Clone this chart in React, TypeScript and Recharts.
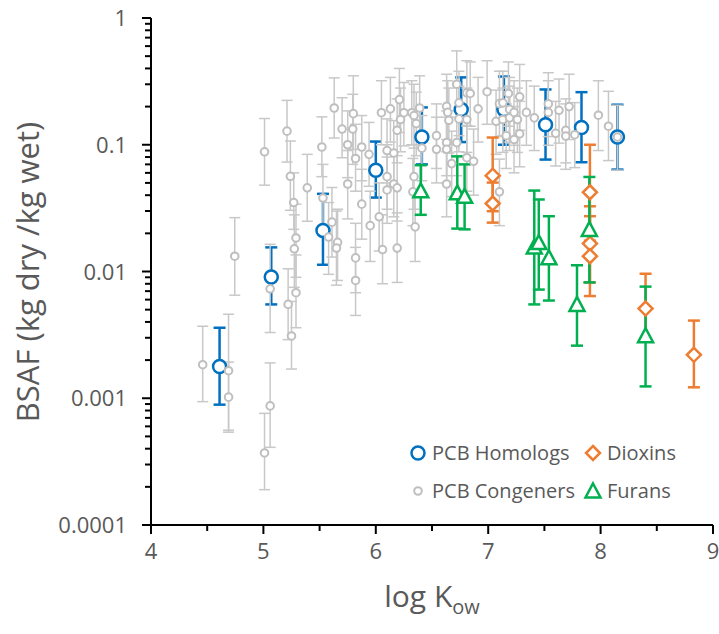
import React from 'react';
import { ScatterChart, Scatter, XAxis, YAxis, ErrorBar } from 'recharts';

// ---------- Data ----------
const homologX = [4.61, 5.07, 5.53, 6.0, 6.41, 6.76, 7.14, 7.51, 7.83, 8.15];
const homologY = [0.00178, 0.00906, 0.0211, 0.063, 0.115, 0.19, 0.19, 0.1436, 0.137, 0.115];
const homologLo = [0.00089, 0.0055, 0.0113, 0.0383, 0.07, 0.105, 0.1, 0.0764, 0.0728, 0.0637];
const homologHi = [0.0036, 0.0155, 0.041, 0.106, 0.197, 0.34, 0.345, 0.273, 0.26, 0.207];

const congenerX = [
  4.46, 4.69, 4.69, 4.745, 5.01, 5.06, 5.06, 5.01, 5.21, 5.24,
  5.27, 5.29, 5.275, 5.29, 5.22, 5.25, 5.39, 5.52, 5.53, 5.61,
  5.58, 5.66, 5.65, 5.63, 5.7, 5.8, 5.795, 5.75, 5.82, 5.875,
  5.94, 5.75, 5.875, 5.95, 5.82, 5.82, 6.03, 6.06, 6.19, 6.05,
  6.13, 6.21, 6.22, 6.19, 6.25, 6.32, 6.1, 6.16, 6.1, 6.1,
  6.16, 6.19, 6.34, 6.33, 6.35, 6.39, 6.34, 6.36, 6.41, 6.54,
  6.54, 6.63, 6.64, 6.65, 6.72, 6.74, 6.81, 6.84, 6.74, 6.81,
  6.91, 6.99, 6.63, 6.63, 6.72, 6.675, 6.63, 6.81, 6.87, 7.1,
  7.1, 7.13, 7.18, 7.19, 7.07, 7.13, 7.19, 7.23, 7.28, 7.26,
  7.28, 7.34, 7.41, 7.16, 7.23, 7.535, 7.535, 7.63, 7.72, 7.6,
  7.69, 7.69, 7.77, 7.98, 8.07, 8.15,
];
const congenerY = [
  0.00184, 0.00165, 0.00102, 0.0132, 0.088, 0.0073, 0.00087, 0.00037, 0.128, 0.0564,
  0.035, 0.0184, 0.0151, 0.0068, 0.0055, 0.0031, 0.0457, 0.096, 0.038, 0.0245,
  0.0187, 0.017, 0.0153, 0.195, 0.133, 0.176, 0.133, 0.1, 0.078, 0.096,
  0.084, 0.049, 0.034, 0.023, 0.0128, 0.0085, 0.027, 0.0149, 0.0153, 0.179,
  0.192, 0.227, 0.158, 0.13, 0.179, 0.179, 0.09, 0.086, 0.056, 0.044,
  0.049, 0.0457, 0.056, 0.0425, 0.0225, 0.195, 0.17, 0.147, 0.094, 0.118,
  0.092, 0.201, 0.18, 0.156, 0.3, 0.214, 0.257, 0.254, 0.16, 0.158,
  0.192, 0.262, 0.104, 0.092, 0.104, 0.071, 0.049, 0.079, 0.074, 0.0425,
  0.211, 0.214, 0.254, 0.19, 0.153, 0.158, 0.163, 0.18, 0.239, 0.158,
  0.122, 0.18, 0.163, 0.118, 0.11, 0.21, 0.18, 0.187, 0.2, 0.123,
  0.13, 0.117, 0.12, 0.171, 0.14, 0.115,
];
const congenerLo = [
  0.00094, 0.00056, 0.00054, 0.0065, 0.048, 0.0033, 0.00041, 0.00019, 0.073, 0.0304,
  0.0215, 0.009, 0.0075, 0.0036, 0.0029, 0.0017, 0.0249, 0.056, 0.02, 0.013,
  0.0095, 0.0085, 0.0078, 0.113, 0.079, 0.092, 0.07, 0.055, 0.043, 0.052,
  0.047, 0.026, 0.018, 0.012, 0.0068, 0.0045, 0.0145, 0.008, 0.0082, 0.1,
  0.105, 0.125, 0.088, 0.072, 0.098, 0.1, 0.05, 0.048, 0.031, 0.024,
  0.027, 0.025, 0.031, 0.023, 0.012, 0.108, 0.094, 0.082, 0.052, 0.065,
  0.05, 0.11, 0.1, 0.086, 0.165, 0.118, 0.14, 0.14, 0.088, 0.087,
  0.105, 0.145, 0.057, 0.05, 0.057, 0.039, 0.027, 0.043, 0.04, 0.023,
  0.116, 0.118, 0.14, 0.105, 0.084, 0.087, 0.09, 0.099, 0.13, 0.087,
  0.067, 0.099, 0.09, 0.065, 0.06, 0.116, 0.099, 0.103, 0.11, 0.068,
  0.072, 0.064, 0.066, 0.09, 0.075, 0.063,
];
const congenerHi = [
  0.0037, 0.0046, 0.00193, 0.0266, 0.161, 0.0164, 0.0019, 0.00076, 0.224, 0.107,
  0.06, 0.034, 0.028, 0.0135, 0.0105, 0.0058, 0.084, 0.166, 0.07, 0.046,
  0.035, 0.031, 0.03, 0.337, 0.235, 0.35, 0.25, 0.185, 0.145, 0.17,
  0.15, 0.09, 0.064, 0.043, 0.024, 0.0155, 0.05, 0.028, 0.029, 0.32,
  0.34, 0.4, 0.28, 0.23, 0.31, 0.32, 0.16, 0.155, 0.1, 0.08,
  0.088, 0.082, 0.1, 0.078, 0.041, 0.35, 0.3, 0.26, 0.17, 0.21,
  0.165, 0.36, 0.32, 0.28, 0.55, 0.38, 0.46, 0.45, 0.29, 0.28,
  0.34, 0.46, 0.185, 0.165, 0.185, 0.128, 0.088, 0.142, 0.133, 0.077,
  0.38, 0.38, 0.45, 0.34, 0.27, 0.28, 0.29, 0.32, 0.43, 0.28,
  0.22, 0.32, 0.29, 0.21, 0.2, 0.37, 0.32, 0.33, 0.36, 0.22,
  0.23, 0.21, 0.215, 0.32, 0.264, 0.205,
];

const dioxinX = [7.04, 7.04, 7.905, 7.905, 7.905, 8.4, 8.83];
const dioxinY = [0.057, 0.0344, 0.0422, 0.0166, 0.0132, 0.0051, 0.0022];
const dioxinLo = [0.0299, 0.0243, 0.0175, 0.0064, 0.0082, 0.0028, 0.00122];
const dioxinHi = [0.114, 0.0503, 0.1, 0.0327, 0.0273, 0.0096, 0.0041];

const furanX = [6.4, 6.725, 6.79, 7.41, 7.45, 7.54, 7.79, 7.9, 8.4];
const furanY = [0.0425, 0.041, 0.0385, 0.0153, 0.0166, 0.0126, 0.0054, 0.0211, 0.00306];
const furanLo = [0.028, 0.0218, 0.0215, 0.0055, 0.0072, 0.0059, 0.0026, 0.0082, 0.00124];
const furanHi = [0.069, 0.081, 0.07, 0.0435, 0.037, 0.0273, 0.0112, 0.0557, 0.0076];

const xTicks = [4, 4.5, 5, 5.5, 6, 6.5, 7, 7.5, 8, 8.5, 9];
const xTickLabels = ['4', '', '5', '', '6', '', '7', '', '8', '', '9'];
const yTicks = [
  0.0001, 0.0002, 0.0003, 0.0004, 0.0005, 0.0006, 0.0007, 0.0008, 0.0009,
  0.001, 0.002, 0.003, 0.004, 0.005, 0.006, 0.007, 0.008, 0.009,
  0.01, 0.02, 0.03, 0.04, 0.05, 0.06, 0.07, 0.08, 0.09,
  0.1, 0.2, 0.3, 0.4, 0.5, 0.6, 0.7, 0.8, 0.9,
  1,
];
const yMajorTicks = [0.0001, 0.001, 0.01, 0.1, 1];
const yMajorLabels = ['0.0001', '0.001', '0.01', '0.1', '1'];

const seriesNames = ['PCB Homologs', 'Dioxins', 'PCB Congeners', 'Furans'];

// ---------- Helpers ----------
const build = (xs: number[], ys: number[], los: number[], his: number[]) =>
  xs.map((x, i) => ({ x, y: ys[i], err: [ys[i] - los[i], his[i] - ys[i]] }));

const homologData = build(homologX, homologY, homologLo, homologHi);
const congenerData = build(congenerX, congenerY, congenerLo, congenerHi);
const dioxinData = build(dioxinX, dioxinY, dioxinLo, dioxinHi);
const furanData = build(furanX, furanY, furanLo, furanHi);

const BLUE = '#0070C0';
const GRAY = '#BFBFBF';
const ORANGE = '#ED7D31';
const GREEN = '#00B050';
const TEXT = '#595959';
const FONT = '"Open Sans", "Noto Sans", sans-serif';

const HomologShape = (p: any) => (
  <circle cx={p.cx} cy={p.cy} r={6.5} fill="#fff" stroke={BLUE} strokeWidth={2.5} />
);
const CongenerShape = (p: any) => (
  <circle cx={p.cx} cy={p.cy} r={3.8} fill="#fff" stroke={GRAY} strokeWidth={2} />
);
const diamondPath = (cx: number, cy: number, s: number) =>
  `M${cx},${cy - s}L${cx + s},${cy}L${cx},${cy + s}L${cx - s},${cy}Z`;
const trianglePath = (cx: number, cy: number) =>
  `M${cx},${cy - 8.5}L${cx + 7.5},${cy + 5.5}L${cx - 7.5},${cy + 5.5}Z`;
const DioxinShape = (p: any) => (
  <path d={diamondPath(p.cx, p.cy, 7)} fill="#fff" stroke={ORANGE} strokeWidth={2.5} />
);
const FuranShape = (p: any) => (
  <path d={trianglePath(p.cx, p.cy)} fill="#fff" stroke={GREEN} strokeWidth={2.5} />
);

const XTick = (props: any) => {
  const { x, y, payload } = props;
  const idx = xTicks.indexOf(payload.value);
  const label = idx >= 0 ? xTickLabels[idx] : '';
  const major = label !== '';
  return (
    <g>
      <line x1={x} x2={x} y1={y} y2={y + (major ? 9 : 6)} stroke="#000" strokeWidth={2} />
      {major && (
        <text x={x} y={y + 34} textAnchor="middle" fontSize={22} fill={TEXT} fontFamily={FONT}>
          {label}
        </text>
      )}
    </g>
  );
};

const YTick = (props: any) => {
  const { x, y, payload } = props;
  const idx = yMajorTicks.findIndex((v) => Math.abs(v - payload.value) < v * 1e-6);
  const major = idx >= 0;
  return (
    <g>
      <line x1={x - (major ? 9 : 6)} x2={x} y1={y} y2={y} stroke="#000" strokeWidth={2} />
      {major && (
        <text x={x - 24} y={y + 8} textAnchor="end" fontSize={22} fill={TEXT} fontFamily={FONT}>
          {yMajorLabels[idx]}
        </text>
      )}
    </g>
  );
};

const YTitle = () => (
  <text
    transform="translate(39,272) rotate(-90)"
    textAnchor="middle"
    fontSize={31}
    fill={TEXT}
    fontFamily={FONT}
  >
    BSAF (kg dry /kg wet)
  </text>
);

const XTitle = () => (
  <text x={432} y={607} textAnchor="middle" fontSize={30} fill={TEXT} fontFamily={FONT}>
    log K<tspan fontSize={20} dy={7}>ow</tspan>
  </text>
);

const Legend = () => (
  <svg
    width={719}
    height={634}
    style={{ position: 'absolute', left: 0, top: 0, pointerEvents: 'none' }}
  >
    <circle cx={418} cy={453} r={6.5} fill="#fff" stroke={BLUE} strokeWidth={2.5} />
    <text x={432} y={460} fontSize={20} fill={TEXT} fontFamily={FONT}>{seriesNames[0]}</text>
    <path d={diamondPath(593, 453, 7)} fill="#fff" stroke={ORANGE} strokeWidth={2.5} />
    <text x={607} y={460} fontSize={20} fill={TEXT} fontFamily={FONT}>{seriesNames[1]}</text>
    <circle cx={418} cy={491} r={3.8} fill="#fff" stroke={GRAY} strokeWidth={2} />
    <text x={432} y={498} fontSize={20} fill={TEXT} fontFamily={FONT}>{seriesNames[2]}</text>
    <path d={trianglePath(593, 492)} fill="#fff" stroke={GREEN} strokeWidth={2.5} />
    <text x={607} y={498} fontSize={20} fill={TEXT} fontFamily={FONT}>{seriesNames[3]}</text>
  </svg>
);

export default function App() {
  return (
    <div style={{ position: 'relative', width: 719, height: 634, background: '#fff' }}>
      <style>{'body{margin:0;}'}</style>
      <ScatterChart
        width={719}
        height={634}
        margin={{ top: 18, right: 6, bottom: 0, left: 0 }}
        style={{ fontFamily: FONT }}
      >
        <XAxis
          type="number"
          dataKey="x"
          domain={[4, 9]}
          ticks={xTicks}
          interval={0}
          allowDataOverflow
          height={109}
          tickSize={0}
          tickMargin={0}
          tickLine={false}
          axisLine={{ stroke: '#000', strokeWidth: 2 }}
          tick={<XTick />}
          label={{ content: () => <XTitle /> }}
        />
        <YAxis
          type="number"
          dataKey="y"
          scale="log"
          domain={[0.0001, 1]}
          ticks={yTicks}
          interval={0}
          allowDataOverflow
          width={151}
          tickSize={0}
          tickMargin={0}
          tickLine={false}
          axisLine={{ stroke: '#000', strokeWidth: 2 }}
          tick={<YTick />}
          label={{ content: () => <YTitle /> }}
        />
        <Scatter name="PCB Homologs" data={homologData} shape={HomologShape} isAnimationActive={false}>
          <ErrorBar dataKey="err" direction="y" width={6} stroke={BLUE} strokeWidth={2.5} />
        </Scatter>
        <Scatter name="PCB Congeners" data={congenerData} shape={CongenerShape} isAnimationActive={false}>
          <ErrorBar dataKey="err" direction="y" width={5.5} stroke="#C8C8C8" strokeWidth={1.5} />
        </Scatter>
        <Scatter name="Dioxins" data={dioxinData} shape={DioxinShape} isAnimationActive={false}>
          <ErrorBar dataKey="err" direction="y" width={6} stroke={ORANGE} strokeWidth={2.5} />
        </Scatter>
        <Scatter name="Furans" data={furanData} shape={FuranShape} isAnimationActive={false}>
          <ErrorBar dataKey="err" direction="y" width={6} stroke={GREEN} strokeWidth={2.5} />
        </Scatter>
      </ScatterChart>
      <Legend />
    </div>
  );
}
